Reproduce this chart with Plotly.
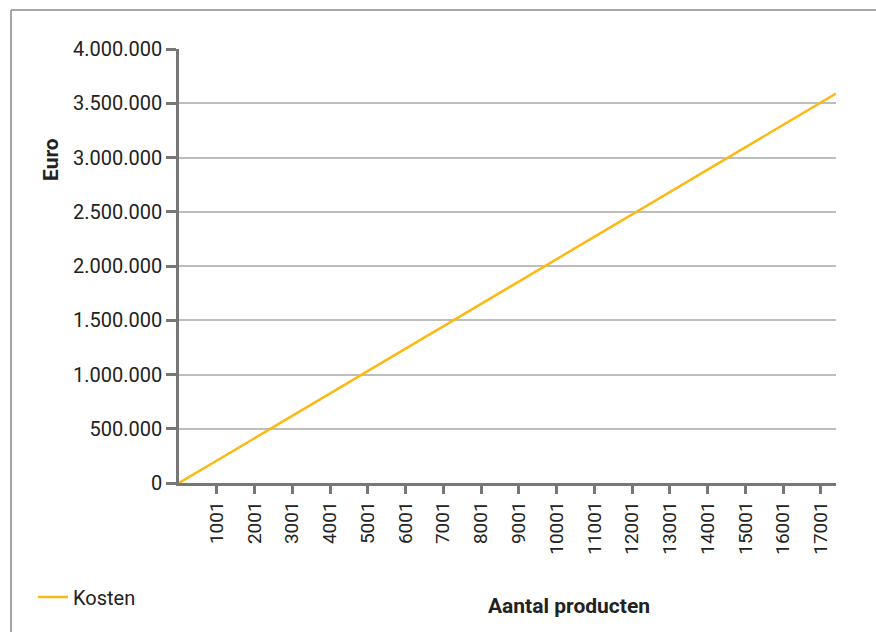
import plotly.graph_objects as go

# Data
aantal = [1, 17400]
kosten = [0, 3590000]
x_ticks = [1001, 2001, 3001, 4001, 5001, 6001, 7001, 8001, 9001,
           10001, 11001, 12001, 13001, 14001, 15001, 16001, 17001]
y_ticks = [0, 500000, 1000000, 1500000, 2000000, 2500000, 3000000, 3500000, 4000000]
y_labels = ["0", "500.000", "1.000.000", "1.500.000", "2.000.000",
            "2.500.000", "3.000.000", "3.500.000", "4.000.000"]

W, H = 876, 632
L, R, T, B = 179, 40, 49, 149
pw, ph = W - L - R, H - T - B

def px(xp):
    return (xp - L) / pw

def py(yp):
    return (H - B - yp) / ph

FONT = "Roboto"
TXT = "#222222"

fig = go.Figure()
fig.add_trace(go.Scatter(
    x=aantal, y=kosten, mode="lines", name="Kosten",
    line=dict(color="#FDB913", width=2.5),
))

fig.update_layout(
    width=W, height=H,
    margin=dict(l=L, r=R, t=T, b=B),
    paper_bgcolor="white", plot_bgcolor="white",
    font=dict(family=FONT, color=TXT, size=18),
    showlegend=True,
    legend=dict(x=px(33), y=py(597), xanchor="left", yanchor="middle",
                font=dict(family=FONT, size=20, color=TXT),
                bgcolor="rgba(0,0,0,0)", itemwidth=30),
    xaxis=dict(
        range=[1, 17400], tickmode="array", tickvals=x_ticks,
        ticktext=[str(v) for v in x_ticks], tickangle=-90,
        showgrid=False, zeroline=False,
        showline=True, linecolor="#777777", linewidth=2.5,
        ticks="outside", ticklen=8, tickwidth=2.5, tickcolor="#777777",
        tickfont=dict(family=FONT, size=19, color=TXT),
    ),
    yaxis=dict(
        range=[0, 4000000], tickmode="array", tickvals=y_ticks, ticktext=y_labels,
        showgrid=True, gridcolor="#bdbdbd", gridwidth=1.5, zeroline=False,
        showline=True, linecolor="#777777", linewidth=2.5,
        ticks="outside", ticklen=10, tickwidth=2.5, tickcolor="#777777",
        tickfont=dict(family=FONT, size=20, color=TXT),
    ),
    annotations=[
        dict(text="<b>Euro</b>", x=px(51), y=py(160), xref="paper", yref="paper",
             xanchor="center", yanchor="middle",
             showarrow=False, textangle=-90, font=dict(family=FONT, size=21, color=TXT)),
        dict(text="<b>Aantal producten</b>", x=px(569), y=py(606), xref="paper", yref="paper",
             xanchor="center", yanchor="middle",
             showarrow=False, font=dict(family=FONT, size=21, color=TXT)),
    ],
    shapes=[
        dict(type="line", xref="paper", yref="paper", x0=px(11), x1=px(880),
             y0=py(10), y1=py(10), line=dict(color="#8a8a8a", width=1.5)),
        dict(type="line", xref="paper", yref="paper", x0=px(11), x1=px(11),
             y0=py(10), y1=py(640), line=dict(color="#8a8a8a", width=1.5)),
    ],
)

fig.write_html("out.html")
